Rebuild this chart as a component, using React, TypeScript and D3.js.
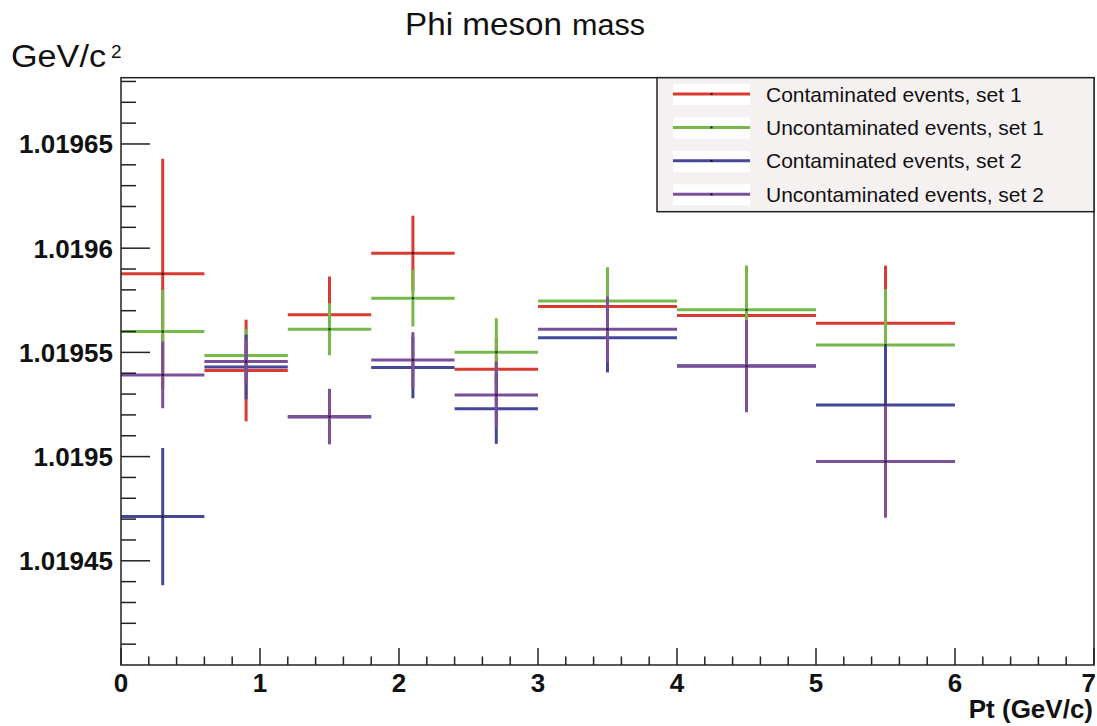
import React from "react";
import * as d3 from "d3";

// Pt bins (GeV/c)
const binEdges = [0, 0.6, 1.2, 1.8, 2.4, 3, 4, 5, 6];

// Fitted phi mass per bin (GeV/c^2) and its uncertainty
const contam1 = [1.0195877, 1.0195413, 1.019568, 1.0195976, 1.0195419, 1.019572, 1.0195677, 1.019564];
const contam1Err = [0.0000552, 0.0000244, 0.0000184, 0.000018, 0.000015, 0.000014, 0.000018, 0.0000276];

const uncont1 = [1.01956, 1.0195485, 1.0195611, 1.019576, 1.0195501, 1.0195747, 1.0195704, 1.0195535];
const uncont1Err = [0.00002, 0.0000127, 0.0000125, 0.0000136, 0.0000163, 0.0000162, 0.0000213, 0.0000269];

const contam2 = [1.0194712, 1.019543, 1.019519, 1.0195427, 1.0195229, 1.019557, 1.0195436, 1.0195247];
const contam2Err = [0.0000329, 0.0000155, 0.000013, 0.0000147, 0.0000168, 0.0000166, 0.00002, 0.0000288];

const uncont2 = [1.0195392, 1.0195456, 1.0195192, 1.0195464, 1.0195296, 1.0195611, 1.0195434, 1.0194976];
const uncont2Err = [0.000016, 0.0000104, 0.0000133, 0.0000133, 0.000016, 0.0000157, 0.0000221, 0.0000269];

const seriesNames = [
  "Contaminated events, set 1",
  "Uncontaminated events, set 1",
  "Contaminated events, set 2",
  "Uncontaminated events, set 2",
];
const seriesColors = ["#d93b30", "#77b84a", "#45489a", "#7c4f9a"];

const yMajorTicks = [1.01945, 1.0195, 1.01955, 1.0196, 1.01965];
const yMajorLabels = ["1.01945", "1.0195", "1.01955", "1.0196", "1.01965"];
const xMajorTicks = [0, 1, 2, 3, 4, 5, 6, 7];

const W = 1097;
const H = 726;
const left = 121;
const right = 1094;
const top = 77.7;
const bottom = 665;

const FONT = "'Liberation Sans', Arial, Helvetica, sans-serif";

export default function App() {
  const x = d3.scaleLinear().domain([0, 7]).range([left, right]);
  const y = d3.scaleLinear().domain([1.0194, 1.0196818]).range([bottom, top]);

  const series = [
    { v: contam1, e: contam1Err },
    { v: uncont1, e: uncont1Err },
    { v: contam2, e: contam2Err },
    { v: uncont2, e: uncont2Err },
  ];

  const yMinor = d3.range(1.01941, 1.019681, 0.00001).filter(
    (t) => !yMajorTicks.some((m) => Math.abs(m - t) < 1e-9)
  );
  const xMinor = d3.range(0.2, 7, 0.2).filter((t) => Math.abs(t - Math.round(t)) > 1e-6);

  const legendRows = d3.scaleLinear().domain([0, 3]).range([94, 194.3]);
  const lastTick = xMajorTicks[xMajorTicks.length - 1];

  return (
    <svg
      width={W}
      height={H}
      style={{ position: "absolute", left: 0, top: 0, background: "#fff" }}
      fontFamily={FONT}
    >
      {/* title */}
      <text x={405} y={35} fontSize={32} fill="#111" textLength={157} lengthAdjust="spacingAndGlyphs">Phi meson</text>
      <text x={572} y={35} fontSize={29.5} fill="#111" textLength={73} lengthAdjust="spacingAndGlyphs">mass</text>

      {/* y-axis unit */}
      <text x={11} y={67} fontSize={31} fill="#111" textLength={95} lengthAdjust="spacingAndGlyphs">GeV/c</text>
      <text x={111} y={58} fontSize={19} fill="#111">2</text>

      {/* data: horizontal bin-width bars and vertical error bars */}
      {series.map((s, si) => (
        <g key={si} stroke={seriesColors[si]} strokeWidth={3}>
          {s.v.map((v, i) => {
            const x0 = x(binEdges[i]);
            const x1 = x(binEdges[i + 1]);
            const xc = x((binEdges[i] + binEdges[i + 1]) / 2);
            const yc = y(v);
            return (
              <g key={i}>
                <line x1={x0} x2={x1} y1={yc} y2={yc} />
                <line x1={xc} x2={xc} y1={y(v + s.e[i])} y2={y(v - s.e[i])} />
                <rect x={xc - 1} y={yc - 1} width={2} height={2} fill="#111" stroke="none" />
              </g>
            );
          })}
        </g>
      ))}

      {/* frame */}
      <rect x={left} y={top} width={right - left} height={bottom - top} fill="none" stroke="#222" strokeWidth={1.5} />

      {/* ticks */}
      <g stroke="#222" strokeWidth={1.5}>
        {yMinor.map((t, i) => (
          <line key={"ym" + i} x1={left} x2={left + 15} y1={y(t)} y2={y(t)} />
        ))}
        {yMajorTicks.map((t, i) => (
          <line key={"yM" + i} x1={left} x2={left + 29} y1={y(t)} y2={y(t)} />
        ))}
        {xMinor.map((t, i) => (
          <line key={"xm" + i} x1={x(t)} x2={x(t)} y1={bottom} y2={bottom - 8.5} />
        ))}
        {xMajorTicks.map((t, i) => (
          <line key={"xM" + i} x1={x(t)} x2={x(t)} y1={bottom} y2={bottom - 17} />
        ))}
      </g>

      {/* tick labels */}
      {yMajorTicks.map((t, i) => (
        <text key={"yl" + i} x={113} y={y(t) + 9.5} fontSize={26} fontWeight="bold" textAnchor="end" fill="#111">
          {yMajorLabels[i]}
        </text>
      ))}
      {xMajorTicks.map((t, i) => (
        <text
          key={"xl" + i}
          x={t === lastTick ? W - 1 : x(t)}
          y={691.5}
          fontSize={26}
          fontWeight="bold"
          textAnchor={t === lastTick ? "end" : "middle"}
          fill="#111"
        >
          {t}
        </text>
      ))}

      {/* x-axis title */}
      <text x={1093} y={718} fontSize={26} fontWeight="bold" textAnchor="end" fill="#111">Pt (GeV/c)</text>

      {/* legend */}
      <rect x={657} y={top} width={right - 657} height={211.7 - top} fill="#f5f1f1" stroke="#222" strokeWidth={1.5} />
      {seriesNames.map((name, i) => {
        const cy = legendRows(i);
        return (
          <g key={name}>
            <rect x={673} y={cy - 10} width={77} height={21} fill="#fff" />
            <line x1={673} x2={750} y1={cy} y2={cy} stroke={seriesColors[i]} strokeWidth={3} />
            <rect x={710.5} y={cy - 1} width={2} height={2} fill="#111" />
            <text x={766} y={cy + 7.5} fontSize={21} fill="#111">{name}</text>
          </g>
        );
      })}
    </svg>
  );
}
